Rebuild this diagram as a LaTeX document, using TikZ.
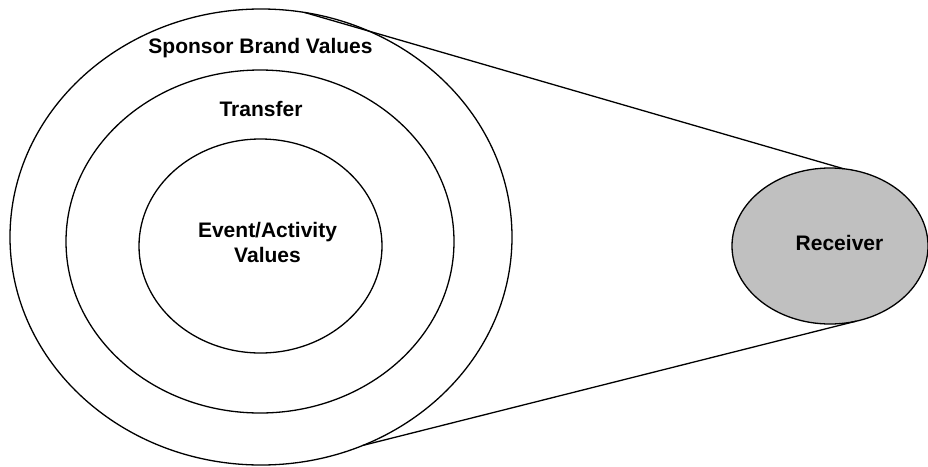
\documentclass[tikz,border=0pt]{standalone}
\usepackage{fontspec}
\setmainfont{Liberation Sans}
\usetikzlibrary{shapes.geometric}
\definecolor{recvgray}{RGB}{192,192,192}
\tikzset{
  ring/.style={ellipse, draw=black, line width=1.3pt, inner sep=0pt, outer sep=0pt},
  lbl/.style={font=\fontsize{21}{25}\selectfont\bfseries, inner sep=0pt, anchor=base, align=center},
  link/.style={draw=black, line width=1.3pt}
}
\begin{document}
\begin{tikzpicture}[x=1pt,y=-1pt]
\useasboundingbox (0,0) rectangle (928,466);
\node[ring, minimum width=502pt, minimum height=456pt] (outer) at (261,237) {};
\node[ring, minimum width=388pt, minimum height=343pt] (transfer) at (260,241.5) {};
\node[ring, minimum width=243pt, minimum height=214pt] (inner) at (260.5,246) {};
\node[ring, fill=recvgray, minimum width=196pt, minimum height=156pt] (recv) at (830,246) {};
\node[lbl] (tsponsor) at (260.5,53) {Sponsor Brand Values};
\node[lbl] (ttransfer) at (261,116) {Transfer};
\node[lbl] (tevent) at (267.5,262) {Event/Activity\\Values};
\node[lbl] (trecv) at (839.5,250) {Receiver};
\draw[link] (outer.79) -- (recv.80);
\draw[link] (outer.-64.7) -- (recv.-71);
\end{tikzpicture}
\end{document}
